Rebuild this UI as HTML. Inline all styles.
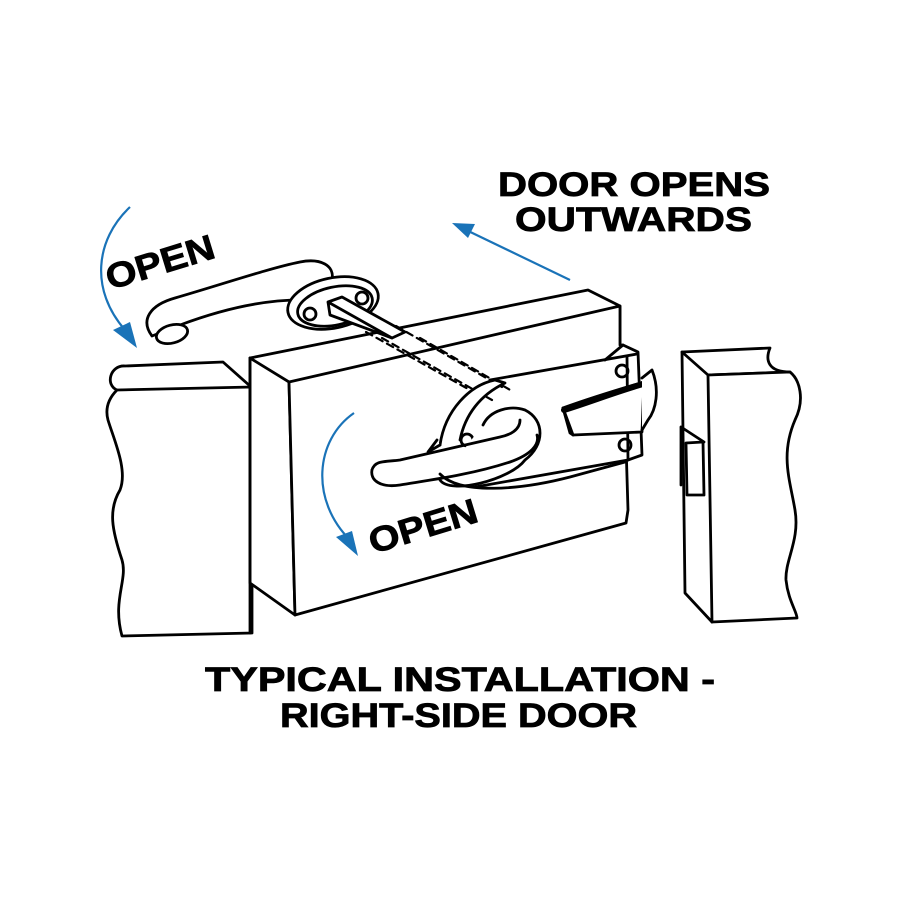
<!DOCTYPE html>
<html><head><meta charset="utf-8"><style>
html,body{margin:0;padding:0;background:#fff;}
svg{display:block}
text{font-family:"Liberation Sans",Arial,sans-serif;font-weight:bold;fill:#000;stroke:#000;stroke-width:0.8}
</style></head><body>
<svg width="900" height="900" viewBox="0 0 900 900" xmlns="http://www.w3.org/2000/svg">
<g fill="none" stroke="#000" stroke-width="2.8" stroke-linejoin="round" stroke-linecap="round">
<path d="M117,390 C105,385 110,365 125,366 L223,362 L250,386" fill="#fff"/>
<path d="M117,390 L252,387 L252,633 L122,636 C112,600 128,580 122,560 C112,530 108,510 120,490 C128,470 114,440 108,420 C104,405 112,395 117,390 Z" fill="#fff"/>
<path d="M253,405 L268,402 L269,440 M253,437 C262,437 266,436 268,434"/>
<path d="M253,528 L270,526 L271,565 M253,561 C262,561 268,560 270,558"/>
<path d="M250,358 L588,290 L620,306 L620,345" fill="#fff"/>
<path d="M250,358 L289,382 L295,615 L250,583 Z" fill="#fff"/>
<path d="M289,382 L620,306 L620,345 L623,345 L628,510 L626,523 L295,615 Z" fill="#fff"/>
<path d="M250,358 L250,633"/>
<path d="M605,360 L623,345 L638,352 L642,455 L628,460 L475,487" fill="#fff"/>
<path d="M490,380 L637,354" />
<path d="M627,356 L628,460" />
<circle cx="622" cy="371" r="6"/>
<circle cx="625" cy="445" r="6"/>
<path d="M563,408 C585,400 610,392 644,382 L642,432 L573,435 Z" fill="#fff"/>
<path d="M563,408 L570,433 L573,435" />
<path d="M564,410 C590,402 615,392 643,384" stroke-width="6"/>
<path d="M642,378 L652,370 C660,390 656,410 648,420 L642,430" fill="#fff"/>
<g stroke-dasharray="7,5" stroke-width="2.2">
<path d="M366,332 L470,390"/><path d="M382,338 L492,400"/><path d="M396,326 L502,387"/><path d="M420,338 L512,391"/>
</g>
<path d="M440,445 C445,410 470,385 495,380 L505,383 C480,395 465,415 460,440" fill="#fff"/>
<path d="M440,445 L428,452 L437,440" fill="#fff"/>
<circle cx="467" cy="440" r="6"/>
<path d="M483,425 C490,410 510,405 525,410 C545,420 545,445 525,460 C510,480 450,495 440,480" fill="#fff"/>
<path d="M372,470 C375,460 385,462 400,460 L500,437 C510,435 520,430 520,420" />
<path d="M372,470 C370,480 380,488 400,485 C430,480 470,475 510,462 C530,455 540,445 537,435" fill="#fff"/>
<path d="M440,474 C460,495 520,490 570,477 L625,462"/>
<!-- outer handle (larger) -->
<path d="M152,336 C140,320 150,305 175,298 C220,285 270,268 300,262 C320,258 335,265 332,280 L300,300 C260,300 220,310 180,325 Z" fill="#fff"/>
<ellipse cx="172" cy="334" rx="16" ry="9" transform="rotate(-15 172 334)" fill="#fff"/>
<ellipse cx="333" cy="303" rx="46" ry="25" transform="rotate(-12 333 303)" fill="#fff"/>
<ellipse cx="335" cy="306" rx="38" ry="19" transform="rotate(-12 335 306)"/>
<circle cx="310" cy="314" r="6"/><circle cx="362" cy="298" r="6"/>
<path d="M328,302 L342,297 L405,332 L392,338 Z M328,302 L330,315 L392,338" fill="#fff"/>
<path d="M682,352 L770,348 C765,360 768,372 790,372 L708,375 Z" fill="#fff"/>
<path d="M708,375 L790,372 C800,380 805,400 795,420 C780,455 790,480 795,510 C800,540 785,560 786,580 C788,600 797,612 797,618 L712,622 Z" fill="#fff"/>
<path d="M682,352 L685,593 L712,622"/>
<path d="M686,443 L703,442 L704,495 L687,495 Z" fill="#fff"/>
<path d="M681,427 L681,485 M681,427 L704,442"/>
</g>
<g fill="none" stroke="#1a73b8" stroke-width="2.2">
<path d="M570,280 L462,228"/>
<path d="M130,207 C95,240 90,290 125,330"/>
<path d="M354,413 C315,440 310,500 350,540"/>
</g>
<g fill="#1a73b8">
<polygon points="452,223 475,224 468,238"/>
<polygon points="137,348 113,330 130,322"/>
<polygon points="358,556 336,537 352,531"/>
</g>
<text x="498" y="196" font-size="34" textLength="272" lengthAdjust="spacingAndGlyphs">DOOR OPENS</text>
<text x="515" y="231" font-size="34" textLength="237" lengthAdjust="spacingAndGlyphs">OUTWARDS</text>
<text x="205" y="691" font-size="34" textLength="510" lengthAdjust="spacingAndGlyphs">TYPICAL INSTALLATION -</text>
<text x="280" y="727" font-size="34" textLength="357" lengthAdjust="spacingAndGlyphs">RIGHT-SIDE DOOR</text>
<text x="0" y="0" font-size="35" textLength="112" lengthAdjust="spacingAndGlyphs" transform="translate(110,290) rotate(-17)">OPEN</text>
<text x="0" y="0" font-size="35" textLength="112" lengthAdjust="spacingAndGlyphs" transform="translate(373,554) rotate(-17)">OPEN</text>
</svg>
</body></html>
